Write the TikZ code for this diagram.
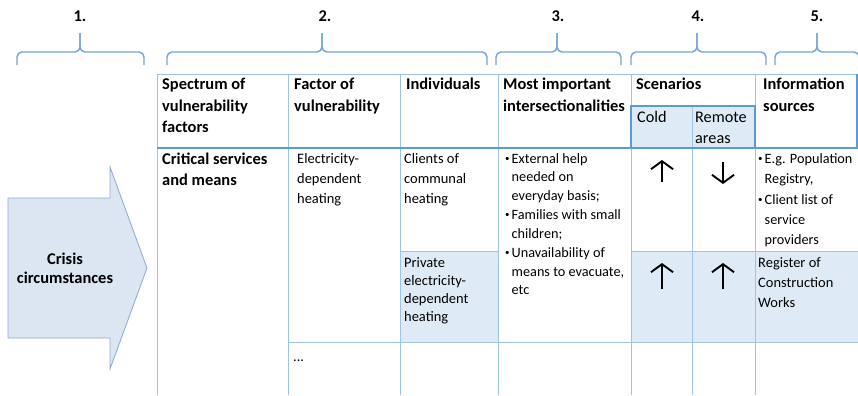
\documentclass[tikz,border=0pt]{standalone}
\usepackage{fontspec}
\setmainfont{Carlito}
\usetikzlibrary{arrows.meta}
\definecolor{gridc}{HTML}{9DC3E6}
\definecolor{darkc}{HTML}{5B9BD5}
\definecolor{shadec}{HTML}{DEEBF7}
\definecolor{bracec}{HTML}{6FA3DA}
\definecolor{arrowfill}{HTML}{DCE6F2}
\definecolor{arrowline}{HTML}{8AA8D0}
\newcommand{\bul}{\makebox[6.5bp][l]{\raisebox{1.8bp}{\fontsize{9}{9}\selectfont •}}}
\newcommand{\ind}{\hspace*{6.5bp}}
\begin{document}
\begin{tikzpicture}[x=1bp,y=-1bp,
  txt/.style={anchor=north west,inner sep=0pt,align=left},
  hdr/.style={txt,font=\fontsize{16.5}{21.5}\selectfont\bfseries},
  bod/.style={txt,font=\fontsize{14.5}{#1}\selectfont},
  bod/.default=20,
  sub/.style={txt,font=\fontsize{16.3}{21}\selectfont},
  bult/.style={txt,font=\fontsize{14.3}{#1}\selectfont},
  numlbl/.style={anchor=base,inner sep=0pt,font=\fontsize{16.5}{20}\selectfont\bfseries},
  brace/.style={draw=bracec,line width=1.4bp,rounded corners=5bp},
  grid/.style={draw=gridc,line width=0.9bp},
  darkline/.style={draw=darkc,line width=1.4bp},
  cellarrow/.style={line width=1.9bp,-{Straight Barb[length=8bp,width=22bp]}}]
\useasboundingbox (0,0) rectangle (858,395);
\begin{scope}
\clip (0,0) rectangle (858,395);
% braces
\draw[brace] (17,65) -- (17,52) -- (80,52) -- (80,33);
\draw[brace] (144,65) -- (144,52) -- (80,52) -- (80,33);
\draw[brace] (167,65) -- (167,52) -- (322,52) -- (322,33);
\draw[brace] (487,65) -- (487,52) -- (322,52) -- (322,33);
\draw[brace] (496,65) -- (496,52) -- (557,52) -- (557,33);
\draw[brace] (621,65) -- (621,52) -- (557,52) -- (557,33);
\draw[brace] (631,65) -- (631,52) -- (697,52) -- (697,33);
\draw[brace] (766,65) -- (766,52) -- (697,52) -- (697,33);
\draw[brace] (775,65) -- (775,52) -- (817,52) -- (817,33);
\draw[brace] (859,65) -- (859,52) -- (817,52) -- (817,33);
% shaded cells
\fill[shadec] (631,106) rectangle (755,148);
\fill[shadec] (400,251) rectangle (498,342);
\fill[shadec] (631,251) rectangle (858,342);
% grid lines
\draw[grid] (157,74) -- (858,74);
\foreach \xx in {157,288,400,498,631,755} {\draw[grid] (\xx,74) -- (\xx,395);}
\draw[grid] (692,106) -- (692,395);
\draw[grid] (400,251) -- (498,251);
\draw[grid] (631,251) -- (858,251);
\draw[grid] (288,342) -- (858,342);
\draw[darkline] (857,74) -- (857,148);
\draw[darkline] (631,106) rectangle (755,148);
\draw[darkline] (157,148) -- (858,148);
\end{scope}
% crisis arrow
\draw[fill=arrowfill,draw=arrowline,line width=0.8bp]
  (8,198) -- (110,198) -- (110,167) -- (147,268) -- (110,369) -- (110,338) -- (8,338) -- cycle;
\node[anchor=north,inner sep=0pt,align=center,font=\fontsize{16.5}{19}\selectfont\bfseries] (crisis) at (65,250.7) {\strut Crisis\\circumstances};
% number labels
\node[numlbl] (n1) at (80,21) {1.};
\node[numlbl] (n2) at (325,21) {2.};
\node[numlbl] (n3) at (558,21) {3.};
\node[numlbl] (n4) at (698,21) {4.};
\node[numlbl] (n5) at (817,21) {5.};
% header texts
\node[hdr] (h1) at (162,74.45) {\strut Spectrum of\\vulnerability\\factors};
\node[hdr] (h2) at (294,74.45) {\strut Factor of\\vulnerability};
\node[hdr] (h3) at (406,74.45) {\strut Individuals};
\node[hdr] (h4) at (503,74.45) {\strut Most important\\intersectionalities};
\node[hdr] (h5) at (636,74.45) {\strut Scenarios};
\node[hdr] (h6) at (763,74.45) {\strut Information\\sources};
\node[sub] (cold) at (637,107.3) {\strut Cold};
\node[sub] (remote) at (695,107.3) {\strut Remote\\areas};
% body row 1
\node[hdr] (crit) at (162,148.95) {\strut Critical services\\and means};
\node[bod] (elec) at (297,149) {\strut Electricity-\\dependent\\heating};
\node[bod] (clients) at (404,149) {\strut Clients of\\communal\\heating};
\node[bult=18.9] (inter) at (505,149.77) {\strut\bul External help\\\ind needed on\\\ind everyday basis;\\\bul Families with small\\\ind children;\\\bul Unavailability of\\\ind means to evacuate,\\\ind etc};
\node[bult=20.5] (info) at (758,148.65) {\strut\bul E.g. Population\\\ind Registry,\\\bul Client list of\\\ind service\\\ind providers};
% body row 2
\node[bod=18.3] (private) at (404,254.2) {\strut Private\\electricity-\\dependent\\heating};
\node[bod] (register) at (758,253) {\strut Register of\\Construction\\Works};
\node[bod] (dots) at (293,347) {\strut ...};
% scenario arrows
\coordinate (a1s) at (662,182); \coordinate (a1e) at (662,160);
\coordinate (a2s) at (723,162); \coordinate (a2e) at (723,184);
\coordinate (a3s) at (662,289); \coordinate (a3e) at (662,263);
\coordinate (a4s) at (723,289); \coordinate (a4e) at (723,263);
\draw[cellarrow] (a1s) -- (a1e);
\draw[cellarrow] (a2s) -- (a2e);
\draw[cellarrow] (a3s) -- (a3e);
\draw[cellarrow] (a4s) -- (a4e);
\end{tikzpicture}
\end{document}
